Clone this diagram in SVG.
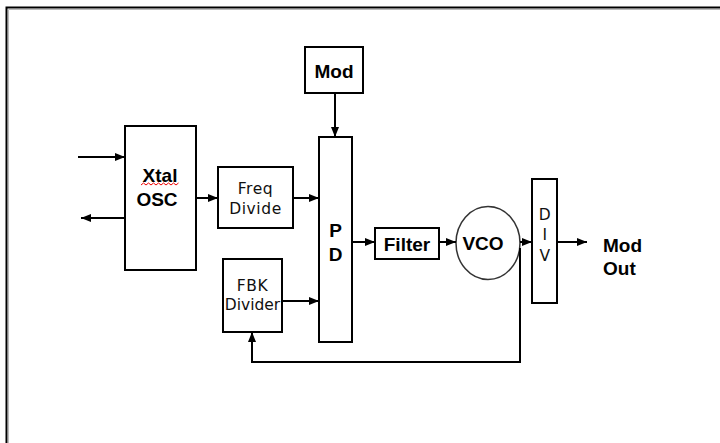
<svg xmlns="http://www.w3.org/2000/svg" width="720" height="443" viewBox="0 0 720 443">
<defs>
<style>
.box{fill:#fff;stroke:#000;stroke-width:2}
.ln{fill:none;stroke:#000;stroke-width:2}
.b{font-family:"Liberation Sans",Arial,sans-serif;font-weight:bold;font-size:19px;fill:#000}
.r{font-family:"DejaVu Sans",Verdana,sans-serif;font-size:15.5px;letter-spacing:0.6px;fill:#111}
</style>
<marker id="ah" markerUnits="userSpaceOnUse" markerWidth="10" markerHeight="10" viewBox="0 0 10 10" refX="10" refY="5" orient="auto">
<path d="M0,1 L10,5 L0,9 Z" fill="#000"/>
</marker>
</defs>
<rect width="720" height="443" fill="#fff"/>
<path d="M6.5,443 V7.5 H720" fill="none" stroke="#000" stroke-width="2"/>
<path d="M8.5,443 V9.5 H720" fill="none" stroke="#bbb" stroke-width="1"/>

<g id="xtal">
<rect class="box" x="125" y="126" width="71" height="144"/>
<text class="b" x="160" y="182" text-anchor="middle">Xtal</text>
<path d="M141,185 l2.5,-2 l2.5,2 l2.5,-2 l2.5,2 l2.5,-2 l2.5,2 l2.5,-2 l2.5,2 l2.5,-2 l2.5,2 l2.5,-2 l2.5,2 l2.5,-2 l2.5,2 l2.5,-2" fill="none" stroke="#e00" stroke-width="1"/>
<text class="b" x="157" y="206" text-anchor="middle">OSC</text>
</g>
<g id="freq">
<rect class="box" x="218" y="167" width="75" height="61"/>
<text class="r" x="255.5" y="194" text-anchor="middle">Freq</text>
<text class="r" x="255.5" y="214" text-anchor="middle">Divide</text>
</g>
<g id="fbk">
<rect class="box" x="223" y="259" width="59" height="73"/>
<text class="r" x="252.5" y="291" text-anchor="middle">FBK</text>
<text class="r" x="252.5" y="310" text-anchor="middle" style="letter-spacing:0">Divider</text>
</g>
<g id="mod">
<rect class="box" x="305" y="47" width="58" height="46"/>
<text class="b" x="334" y="78" text-anchor="middle">Mod</text>
</g>
<g id="pd">
<rect class="box" x="319" y="137" width="33" height="205"/>
<text class="b" x="335.5" y="237" text-anchor="middle">P</text>
<text class="b" x="335.5" y="261" text-anchor="middle">D</text>
</g>
<g id="filter">
<rect class="box" x="375" y="228" width="64" height="31"/>
<text class="b" x="407" y="251" text-anchor="middle">Filter</text>
</g>
<g id="vco">
<ellipse cx="488" cy="243" rx="32" ry="36.5" fill="#fff" stroke="#333" stroke-width="1.5"/>
<text class="b" x="483" y="250" text-anchor="middle">VCO</text>
</g>
<g id="div">
<rect class="box" x="532" y="179" width="25" height="124"/>
<text class="r" x="545" y="220" text-anchor="middle">D</text>
<text class="r" x="545" y="240" text-anchor="middle">I</text>
<text class="r" x="545" y="261" text-anchor="middle">V</text>
</g>
<g id="modout">
<text class="b" x="603" y="252">Mod</text>
<text class="b" x="603" y="275">Out</text>
</g>

<g id="connectors">
<path class="ln" d="M78,157 H125" marker-end="url(#ah)"/>
<path class="ln" d="M125,218 H81" marker-end="url(#ah)"/>
<path class="ln" d="M196,198 H218" marker-end="url(#ah)"/>
<path class="ln" d="M293,198 H319" marker-end="url(#ah)"/>
<path class="ln" d="M282,301 H319" marker-end="url(#ah)"/>
<path class="ln" d="M335,93 V137" marker-end="url(#ah)"/>
<path class="ln" d="M352,242 H375" marker-end="url(#ah)"/>
<path class="ln" d="M439,242 H456" marker-end="url(#ah)"/>
<path class="ln" d="M520,242 H532" marker-end="url(#ah)"/>
<path class="ln" d="M557,242 H587" marker-end="url(#ah)"/>
<path class="ln" d="M520,248 V362 H252 V332" marker-end="url(#ah)"/>
</g>
</svg>
